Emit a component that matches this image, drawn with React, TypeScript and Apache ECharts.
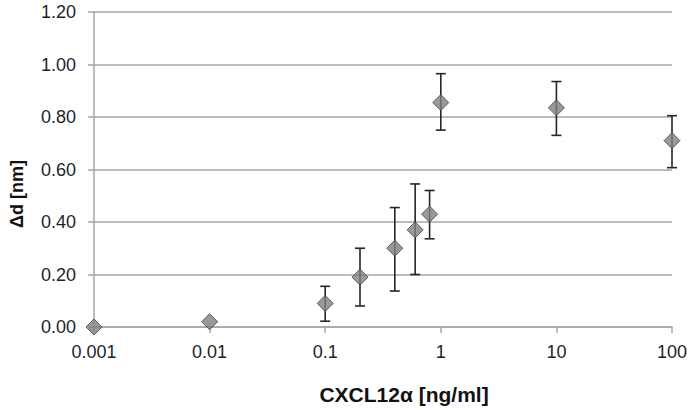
import React, { useEffect, useRef } from "react";
import * as echarts from "echarts";

const concentrations = [0.001, 0.01, 0.1, 0.2, 0.4, 0.6, 0.8, 1, 10, 100];
const meanValues = [0.0, 0.02, 0.09, 0.19, 0.3, 0.37, 0.43, 0.855, 0.835, 0.71];
const upperValues = [0.0, 0.02, 0.155, 0.3, 0.455, 0.545, 0.52, 0.965, 0.935, 0.805];
const lowerValues = [0.0, 0.02, 0.022, 0.08, 0.137, 0.2, 0.336, 0.75, 0.73, 0.607];
const hasError = [false, false, true, true, true, true, true, true, true, true];
const xTicks = [0.001, 0.01, 0.1, 1, 10, 100];
const xTitle = "CXCL12α [ng/ml]";
const yTitle = "Δd [nm]";

export default function App() {
  const ref = useRef<HTMLDivElement>(null);
  useEffect(() => {
    if (!ref.current) return;
    const chart = echarts.init(ref.current, undefined, { renderer: "svg" });
    const font = "'Liberation Sans', Arial, sans-serif";
    const errData = concentrations
      .map((c, i) => [c, lowerValues[i], upperValues[i], hasError[i] ? 1 : 0])
      .filter((d) => d[3] === 1);
    chart.setOption({
      animation: false,
      backgroundColor: "#ffffff",
      grid: { left: 94, right: 20, top: 12, bottom: 83 },
      graphic: [
        {
          type: "text",
          x: 404,
          y: 394,
          style: {
            text: xTitle,
            fontFamily: font,
            fontSize: 21,
            fontWeight: "bold",
            fill: "#111",
            textAlign: "center",
            textVerticalAlign: "middle",
          },
        },
        {
          type: "text",
          x: 17,
          y: 194,
          rotation: Math.PI / 2,
          style: {
            text: yTitle,
            fontFamily: font,
            fontSize: 18,
            fontWeight: "bold",
            fill: "#111",
            textAlign: "center",
            textVerticalAlign: "middle",
          },
        },
      ],
      xAxis: {
        type: "log",
        logBase: 10,
        min: 0.001,
        max: 100,
        axisLine: { show: true, lineStyle: { color: "#a6a6a6", width: 1.5 } },
        axisTick: { show: true, length: 6, lineStyle: { color: "#a6a6a6", width: 1.5 } },
        axisLabel: {
          fontFamily: font,
          fontSize: 18,
          color: "#1e1e2a",
          margin: 16,
          formatter: (v: number) => {
            const m = xTicks.find((t) => Math.abs(Math.log10(t) - Math.log10(v)) < 1e-6);
            return m !== undefined ? String(m) : "";
          },
        },
        splitLine: { show: false },
      },
      yAxis: {
        type: "value",
        min: 0,
        max: 1.2,
        interval: 0.2,
        axisLine: { show: true, lineStyle: { color: "#a6a6a6", width: 1.5 } },
        axisTick: { show: true, length: 6, lineStyle: { color: "#a6a6a6", width: 1.5 } },
        axisLabel: {
          fontFamily: font,
          fontSize: 18,
          color: "#1e1e2a",
          margin: 18,
          padding: [5, 0, 0, 0],
          formatter: (v: number) => v.toFixed(2),
        },
        splitLine: { show: true, lineStyle: { color: "#a6a6a6", width: 1.5 } },
      },
      series: [
        {
          type: "custom",
          z: 2,
          data: errData,
          encode: { x: 0, y: [1, 2] },
          renderItem: (params: any, api: any) => {
            const x = api.value(0);
            const lo = api.coord([x, api.value(1)]);
            const hi = api.coord([x, api.value(2)]);
            const cap = 5;
            const style = { stroke: "#262626", lineWidth: 1.6, fill: "none" };
            return {
              type: "group",
              children: [
                { type: "line", shape: { x1: hi[0], y1: hi[1], x2: lo[0], y2: lo[1] }, style },
                { type: "line", shape: { x1: hi[0] - cap, y1: hi[1], x2: hi[0] + cap, y2: hi[1] }, style },
                { type: "line", shape: { x1: lo[0] - cap, y1: lo[1], x2: lo[0] + cap, y2: lo[1] }, style },
              ],
            };
          },
        },
        {
          type: "scatter",
          z: 3,
          symbol: "path://M0,-1L1,0L0,1L-1,0Z",
          symbolSize: [16, 16],
          itemStyle: { color: "#7f7f7f", borderColor: "#404040", borderWidth: 1 },
          data: concentrations.map((c, i) => [c, meanValues[i]]),
        },
      ],
    });
    return () => chart.dispose();
  }, []);
  return (
    <div
      ref={ref}
      style={{ position: "absolute", left: 0, top: 0, width: 692, height: 410 }}
    />
  );
}
